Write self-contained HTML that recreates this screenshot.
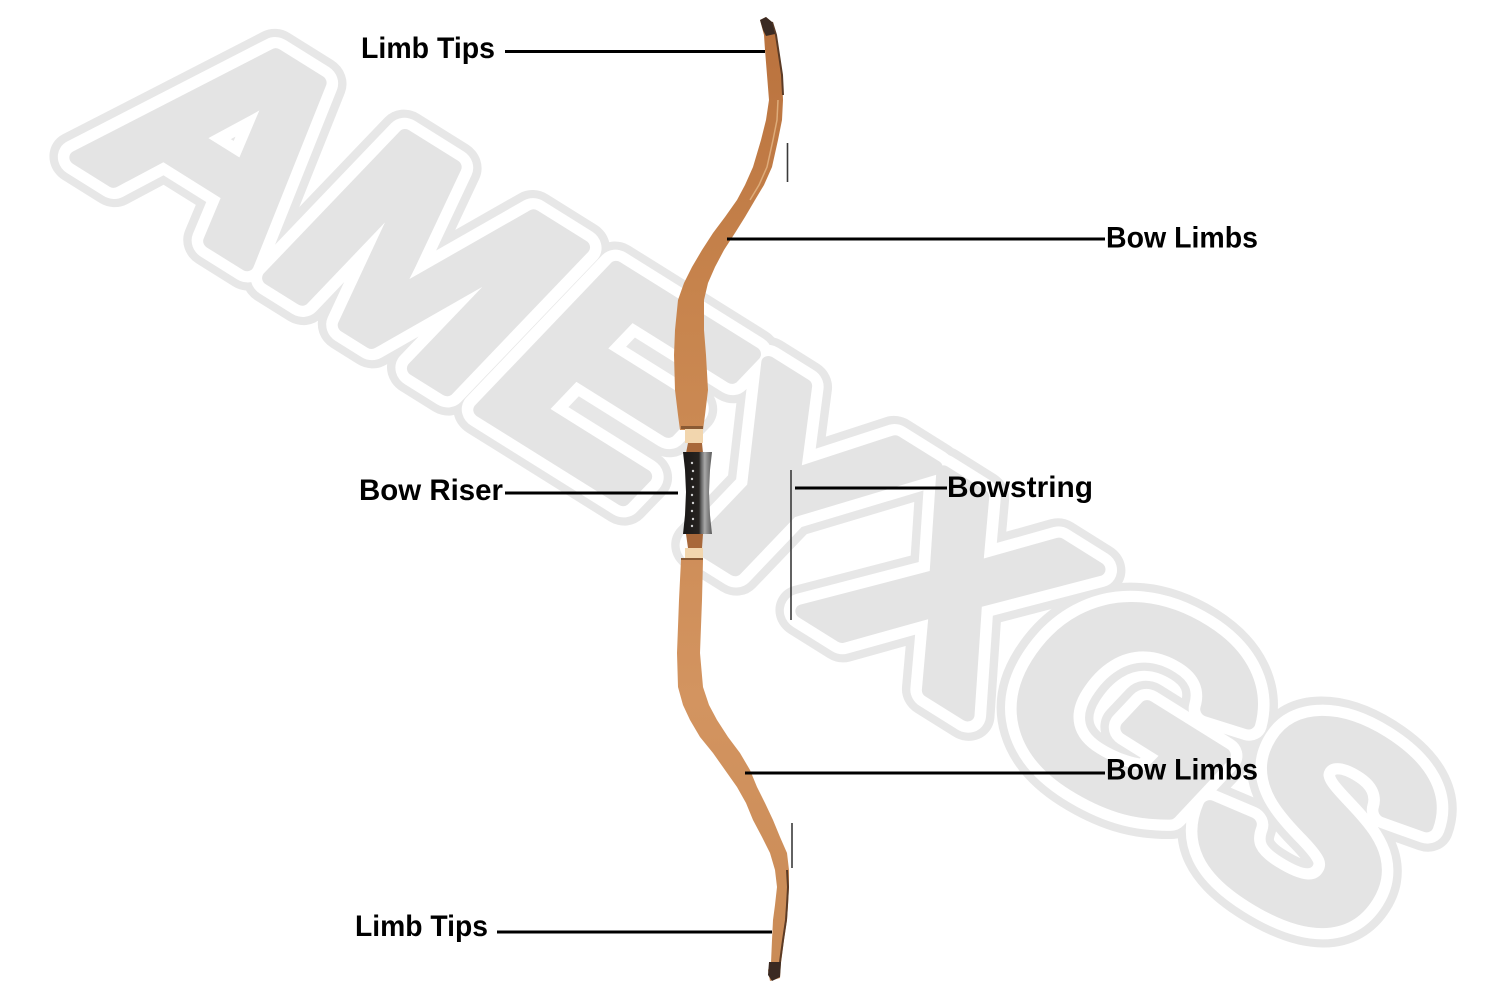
<!DOCTYPE html>
<html>
<head>
<meta charset="utf-8">
<style>
  html, body { margin: 0; padding: 0; background: #ffffff; }
  svg { display: block; }
  .lbl { font-family: "Liberation Sans", "DejaVu Sans", sans-serif; font-weight: bold; font-size: 30px; fill: #000; }
</style>
</head>
<body>
<svg width="1500" height="1000" viewBox="0 0 1500 1000" xmlns="http://www.w3.org/2000/svg">
  <defs>
    <linearGradient id="wood" x1="0" y1="0" x2="0" y2="1000" gradientUnits="userSpaceOnUse">
      <stop offset="0" stop-color="#b8703c"/>
      <stop offset="0.3" stop-color="#c7844d"/>
      <stop offset="0.7" stop-color="#d39460"/>
      <stop offset="1" stop-color="#c88a55"/>
    </linearGradient>
    <linearGradient id="riserG" x1="683" y1="0" x2="712" y2="0" gradientUnits="userSpaceOnUse">
      <stop offset="0" stop-color="#1a1817"/>
      <stop offset="0.55" stop-color="#262320"/>
      <stop offset="0.62" stop-color="#5e5e5e"/>
      <stop offset="0.75" stop-color="#a8a8a8"/>
      <stop offset="1" stop-color="#5a5a5a"/>
    </linearGradient>
  </defs>

  <rect x="0" y="0" width="1500" height="1000" fill="#ffffff"/>

  <!-- Watermark -->
  <g transform="translate(218,166) rotate(32)" font-family="Liberation Sans, DejaVu Sans, sans-serif" font-weight="bold" font-style="italic" font-size="280">
    <text x="-118" y="68" textLength="1495" lengthAdjust="spacingAndGlyphs" fill="#e7e7e7" stroke="#e7e7e7" stroke-width="52" stroke-linejoin="round">AMEYXGS</text>
    <text x="-118" y="68" textLength="1495" lengthAdjust="spacingAndGlyphs" fill="#ffffff" stroke="#ffffff" stroke-width="36" stroke-linejoin="round">AMEYXGS</text>
    <text x="-118" y="68" textLength="1495" lengthAdjust="spacingAndGlyphs" fill="#e4e4e4" stroke="#e4e4e4" stroke-width="14" stroke-linejoin="round">AMEYXGS</text>
  </g>

  <!-- Bowstring fragments -->
  <line x1="787.5" y1="143" x2="787.5" y2="182" stroke="#3a3a3a" stroke-width="1.6"/>
  <line x1="791" y1="470" x2="791" y2="620" stroke="#3a3a3a" stroke-width="1.6"/>
  <line x1="792" y1="823" x2="792" y2="868" stroke="#3a3a3a" stroke-width="1.6"/>

  <!-- Upper limb -->
  <path fill="url(#wood)" d="M760,20 L766,17 L772,22 L776,35 L779,55 L782,75 L783,100 L782,120 L778,140 L772,167 L764,185 L755,200 L745,217 L735,233 L724,250 L715,267 L708,283 L704,300 L704,330 L706,355 L708,390 L705,415 L703,430 L680,430 L678,415 L675,390 L674,355 L675,330 L678,300 L684,283 L692,267 L702,250 L713,233 L725,217 L737,200 L745,185 L753,167 L761,140 L766,120 L769,100 L767,75 L765,50 L764,35 Z"/>
  <path fill="none" stroke="#e6b988" stroke-width="1.5" opacity="0.8" d="M778,100 L777,120 L773,140 L767,167 L759,185 L750,200"/>
  <path fill="none" stroke="#5b3b26" stroke-width="2" d="M772,22 L776,35 L779,55 L782,75 L783,95"/>
  <path fill="#3b2a22" d="M760,20 L766,17 L772,22 L775,34 L766,36 L763,30 Z"/>

  <!-- Upper neck -->
  <rect x="681" y="426" width="22" height="3" fill="#8a5a34"/>
  <rect x="685" y="429" width="18" height="14" fill="#f2d6ae"/>
  <path fill="#a8683a" d="M688,443 L702,443 L703,453 L686,453 Z"/>

  <!-- Riser -->
  <path fill="url(#riserG)" d="M683,452 L712,452 L710,470 L709,492 L710,515 L712,534 L683,534 L685,515 L686,492 L685,470 Z"/>
  <g fill="#cfcfcf">
    <circle cx="692" cy="463" r="1.2"/>
    <circle cx="693" cy="471" r="1.2"/>
    <circle cx="692" cy="479" r="1.2"/>
    <circle cx="693" cy="487" r="1.2"/>
    <circle cx="692" cy="495" r="1.2"/>
    <circle cx="693" cy="503" r="1.2"/>
    <circle cx="692" cy="511" r="1.2"/>
    <circle cx="693" cy="519" r="1.2"/>
    <circle cx="692" cy="526" r="1.2"/>
  </g>

  <!-- Lower neck -->
  <path fill="#a8683a" d="M686,534 L703,534 L702,548 L688,548 Z"/>
  <rect x="685" y="548" width="18" height="11" fill="#f2d6ae"/>
  <rect x="681" y="558" width="22" height="3" fill="#8a5a34"/>

  <!-- Lower limb -->
  <path fill="url(#wood)" d="M681,560 L703,560 L702,600 L700,653 L703,687 L709,705 L717,720 L728,737 L740,753 L750,770 L757,787 L765,803 L773,820 L780,837 L787,853 L789,870 L789,887 L788,905 L787,920 L784,940 L781,963 L780,978 L770,981 L768,970 L771,963 L772,940 L773,920 L775,905 L777,887 L775,870 L770,853 L762,837 L753,820 L746,803 L737,787 L725,770 L713,753 L700,737 L690,720 L683,705 L678,687 L677,653 L679,600 Z"/>
  <path fill="none" stroke="#5b3b26" stroke-width="2" d="M787,870 L788,887 L787,905 L786,920 L783,940 L780,962"/>
  <path fill="#3b2a22" d="M769,962 L781,962 L780,977 L772,981 L768,975 Z"/>

  <!-- Leader lines -->
  <g stroke="#000" stroke-width="3">
    <line x1="505" y1="51.5" x2="765" y2="51.5"/>
    <line x1="727" y1="239" x2="1105" y2="239"/>
    <line x1="505" y1="493" x2="678" y2="493"/>
    <line x1="795" y1="488" x2="947" y2="488"/>
    <line x1="745" y1="773" x2="1105" y2="773"/>
    <line x1="497" y1="932" x2="772" y2="932"/>
  </g>

  <!-- Labels -->
  <text class="lbl" x="361" y="58" textLength="134" lengthAdjust="spacingAndGlyphs">Limb Tips</text>
  <text class="lbl" x="1106" y="247.5" textLength="152" lengthAdjust="spacingAndGlyphs">Bow Limbs</text>
  <text class="lbl" x="359" y="500" textLength="144" lengthAdjust="spacingAndGlyphs">Bow Riser</text>
  <text class="lbl" x="947" y="497" textLength="146" lengthAdjust="spacingAndGlyphs">Bowstring</text>
  <text class="lbl" x="1106" y="779.5" textLength="152" lengthAdjust="spacingAndGlyphs">Bow Limbs</text>
  <text class="lbl" x="355" y="936" textLength="133" lengthAdjust="spacingAndGlyphs">Limb Tips</text>
</svg>
</body>
</html>
